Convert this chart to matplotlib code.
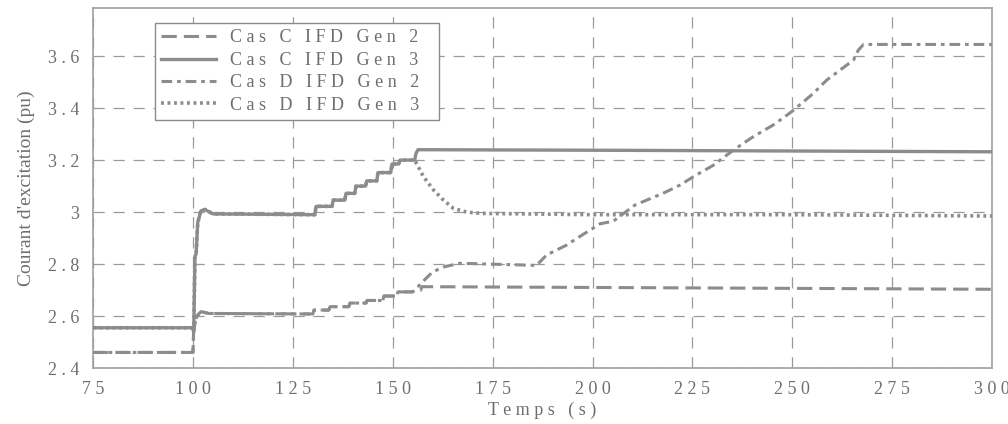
import numpy as np
import matplotlib
matplotlib.use("Agg")
import matplotlib.pyplot as plt

plt.rcParams['font.family'] = ['Liberation Serif', 'DejaVu Serif']

# Cas C, IFD generateur 2 (s, pu)
t_c2 = [75, 100, 100.2, 101, 102, 104, 130, 130.3, 134, 134.3, 139, 139.3,
        143.3, 143.6, 147.5, 147.8, 151, 151.3, 155, 155.3, 157, 157.3, 200, 300]
v_c2 = [2.46, 2.46, 2.55, 2.60, 2.617, 2.61, 2.608, 2.623, 2.623, 2.636, 2.636, 2.65,
        2.65, 2.66, 2.66, 2.677, 2.677, 2.693, 2.693, 2.70, 2.70, 2.713, 2.71, 2.703]

# Cas C, IFD generateur 3
t_c3 = [75, 99.8, 100.2, 100.5, 100.8, 101.2, 102, 103, 105, 130.5, 130.8, 134.8,
        135.1, 138, 138.3, 140.5, 140.8, 143.2, 143.5, 146, 146.3, 149.5, 149.8,
        151.5, 151.8, 155.5, 155.8, 156.3, 200, 300]
v_c3 = [2.555, 2.555, 2.54, 2.83, 2.84, 2.96, 3.005, 3.01, 2.993, 2.99, 3.022, 3.022,
        3.046, 3.046, 3.072, 3.072, 3.10, 3.10, 3.12, 3.12, 3.152, 3.152, 3.185,
        3.185, 3.20, 3.20, 3.225, 3.24, 3.238, 3.232]

# Cas D, IFD generateur 2 (suit le cas C jusqu'a ~155 s)
t_d2_tail = [156, 158, 160, 163, 166.8, 186, 188.5, 193.5, 196.9, 201.9, 205.2,
             210.6, 217.6, 221.9, 225.2, 230.2, 235.2, 240.2, 245.2, 249.8, 255.2,
             258.6, 261.9, 265.3, 266.5, 267.8, 300]
v_d2_tail = [2.708, 2.74, 2.77, 2.79, 2.803, 2.795, 2.835, 2.873, 2.907, 2.955, 2.965,
             3.027, 3.072, 3.104, 3.136, 3.18, 3.238, 3.29, 3.335, 3.386, 3.456,
             3.508, 3.546, 3.585, 3.623, 3.645, 3.645]

# Cas D, IFD generateur 3 (suit le cas C jusqu'a ~155.5 s)
t_d3_tail = [157.7, 160.2, 162.7, 165.2, 168.5, 172, 200, 250, 300]
v_d3_tail = [3.136, 3.085, 3.046, 3.014, 3.0, 2.995, 2.99, 2.99, 2.985]

t_d2 = t_c2[:19] + t_d2_tail
v_d2 = v_c2[:19] + v_d2_tail
t_d3 = t_c3[:26] + t_d3_tail
v_d3 = v_c3[:26] + v_d3_tail

labels = ["Cas C IFD Gen 2", "Cas C IFD Gen 3", "Cas D IFD Gen 2", "Cas D IFD Gen 3"]
xticks = [75, 100, 125, 150, 175, 200, 225, 250, 275, 300]
yticks = [2.4, 2.6, 2.8, 3.0, 3.2, 3.4, 3.6]


def spaced(s):
    # letter-spaced text, like the scanned original
    return "   ".join(" ".join(w) for w in s.split())


line_col = "#8c8c8c"
txt_col = "#6e6e6e"
grid_col = "#9a9a9a"

fig = plt.figure(figsize=(10.08, 4.24), dpi=100)
ax = fig.add_axes([0.0923, 0.132, 0.892, 0.849])

ax.plot(t_d3, v_d3, color=line_col, lw=2.6, linestyle=(0, (0.8, 1.0)), label=labels[3], zorder=3)
ax.plot(t_d2, v_d2, color=line_col, lw=2.2, linestyle=(0, (3.5, 1.6, 1.2, 1.6)), label=labels[2], zorder=3)
ax.plot(t_c2, v_c2, color=line_col, lw=2.2, linestyle=(0, (5, 2.3)), label=labels[0], zorder=4)
ax.plot(t_c3, v_c3, color=line_col, lw=2.4, linestyle="-", label=labels[1], zorder=5)

ax.set_xlim(75, 300)
ax.set_ylim(2.4, 3.785)
ax.set_xticks(xticks)
ax.set_yticks(yticks)
ax.set_xticklabels([spaced(str(x)) for x in xticks])
ax.set_yticklabels([spaced("%g" % y) for y in yticks])
ax.tick_params(axis="both", length=0, colors=txt_col, labelsize=13)
ax.tick_params(axis="x", pad=9)
ax.tick_params(axis="y", pad=10)

ax.grid(True, color=grid_col, lw=0.9, linestyle=(0, (9, 7)))
for s in ax.spines.values():
    s.set_color("#a0a0a0")
    s.set_linewidth(1.2)

ax.set_xlabel(spaced("Temps (s)"), color=txt_col, fontsize=13, labelpad=3)
ax.set_ylabel("Courant d'excitation (pu)", color=txt_col, fontsize=14, labelpad=9)

h, l = ax.get_legend_handles_labels()
order = [2, 3, 1, 0]
leg = ax.legend([h[i] for i in order], [spaced(l[i]) + "   " for i in order],
                loc="upper left", bbox_to_anchor=(0.069, 0.958), borderaxespad=0,
                fancybox=False, framealpha=1, edgecolor="#8c8c8c",
                fontsize=13, handlelength=3.0, labelspacing=0.3,
                borderpad=0.35, handletextpad=0.8)
leg.get_frame().set_linewidth(1.0)
for t in leg.get_texts():
    t.set_color(txt_col)

fig.savefig("out.png", dpi=100, facecolor="white")
